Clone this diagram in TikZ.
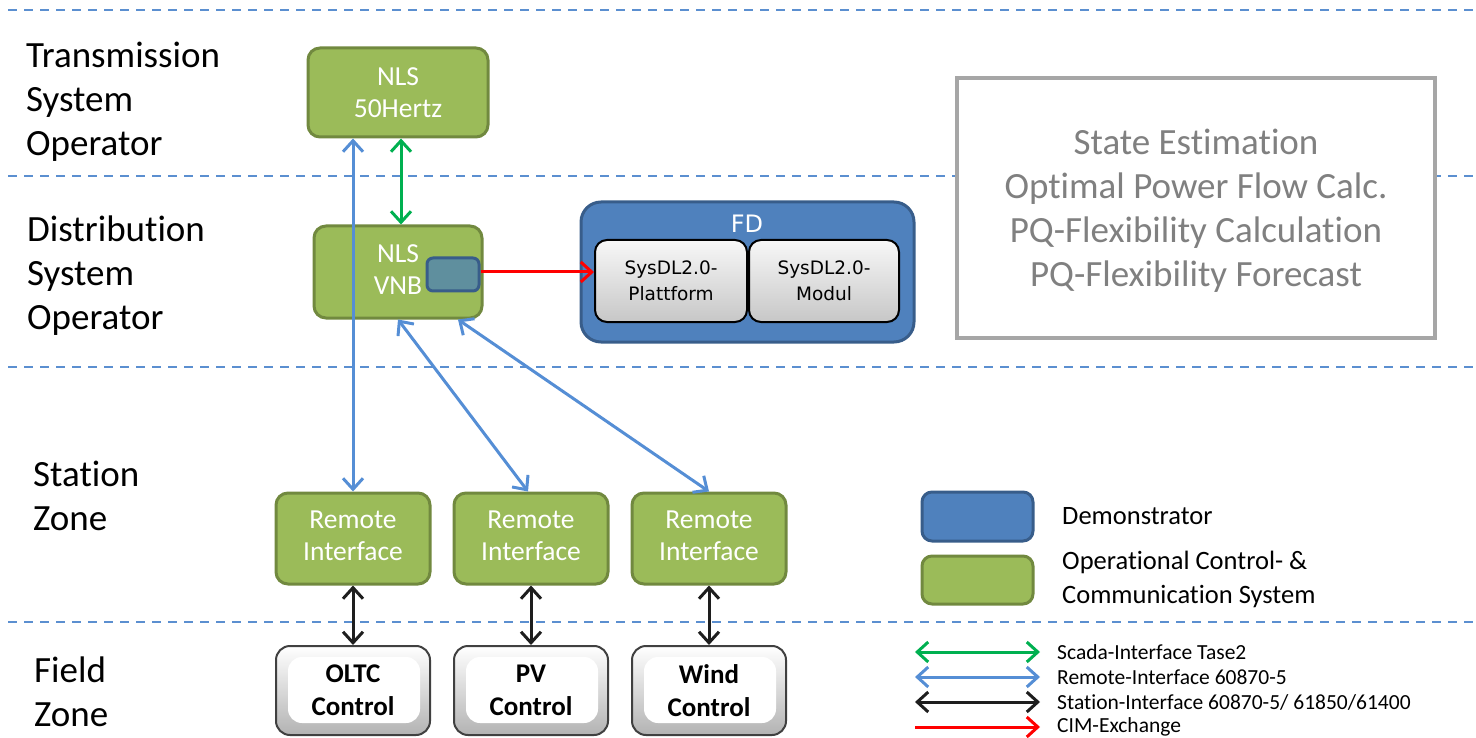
\documentclass[tikz,border=0pt]{standalone}
\usepackage{fontspec}
\setmainfont{Carlito}[Ligatures=CommonOff]
\newfontfamily\tahomalike{DejaVu Sans}
\usetikzlibrary{arrows.meta}

\definecolor{ocGreen}{RGB}{155,187,89}
\definecolor{ocGreenDark}{RGB}{113,137,63}
\definecolor{demoBlue}{RGB}{79,129,189}
\definecolor{demoBlueDark}{RGB}{56,93,138}
\definecolor{zoneLine}{RGB}{91,143,208}
\definecolor{remoteBlue}{RGB}{85,142,213}
\definecolor{scadaGreen}{RGB}{0,176,80}
\definecolor{gateTeal}{RGB}{95,143,158}
\definecolor{frameGray}{RGB}{166,166,166}
\definecolor{textGray}{RGB}{128,128,128}
\definecolor{stationBlack}{RGB}{30,30,30}

\tikzset{
  zonesep/.style={draw=zoneLine, line width=2pt, dash pattern=on 9pt off 7pt},
  zonelabel/.style={anchor=west, align=left, inner sep=0pt, font=\fontsize{37}{44}\selectfont},
  ocbox/.style={draw=ocGreenDark, line width=3pt, fill=ocGreen, rounded corners=12pt,
    text=white, align=center, inner sep=0pt, font=\fontsize{27.5}{32}\selectfont},
  demobox/.style={draw=demoBlueDark, line width=3pt, fill=demoBlue, rounded corners=20pt, inner sep=0pt},
  sysbox/.style={draw=black, line width=2pt, rounded corners=12pt, top color=black!3, bottom color=black!22,
    align=center, inner sep=0pt, font=\tahomalike\fontsize{18.5}{26}\selectfont},
  fieldbox/.style={draw=black!75, line width=2pt, rounded corners=14pt, top color=white, bottom color=black!30,
    align=center, inner sep=0pt, font=\bfseries\fontsize{27}{33}\selectfont,
    minimum width=154pt, minimum height=89pt,
    path picture={\fill[white] ([shift={(12,11)}]path picture bounding box.north west)
      rectangle ([shift={(-10,-12)}]path picture bounding box.south east);}},
  funcbox/.style={draw=frameGray, line width=4pt, fill=white, text=textGray, align=center,
    inner sep=0pt, font=\fontsize{37}{44}\selectfont},
  legtext/.style={anchor=west, align=left, inner sep=0pt},
  >={Straight Barb[length=11pt,width=20pt]},
  link/.style={line width=3pt, <->},
}

\begin{document}
\begin{tikzpicture}[x=1pt,y=-1pt]
\useasboundingbox (0,0) rectangle (1476,738);

% zone separators
\draw[zonesep] (8,10) -- (1476,10);
\draw[zonesep] (8,176) -- (1476,176);
\draw[zonesep] (8,367) -- (1476,367);
\draw[zonesep] (8,622) -- (1476,622);

% zone labels
\node[zonelabel] (lblTSO) at (26,102) {Transmission\\System\\Operator};
\node[zonelabel] (lblDSO) at (27,276) {Distribution\\System\\Operator};
\node[zonelabel] (lblStation) at (33,496) {Station\\Zone};
\node[zonelabel] (lblField) at (34,692) {Field\\Zone};

% control centres
\node[ocbox, minimum width=180pt, minimum height=89pt] (tso) at (398,92.5) {NLS\\50Hertz};
\node[ocbox, minimum width=168pt, minimum height=92pt, text depth=4pt] (vnb) at (398,272) {NLS\\VNB};
\node[draw=demoBlueDark, line width=3pt, fill=gateTeal, rounded corners=6pt,
      minimum width=52pt, minimum height=33pt, inner sep=0pt] (gate) at (453,274.5) {};

% demonstrator
\node[demobox, minimum width=333pt, minimum height=140pt] (fd) at (747.5,272) {};
\node[text=white, inner sep=0pt, font=\tahomalike\fontsize{24}{28}\selectfont] (fdlabel) at (747,224) {FD};
\node[sysbox, minimum width=152pt, minimum height=82pt] (plat) at (671,281) {SysDL2.0-\\Plattform};
\node[sysbox, minimum width=150pt, minimum height=82pt] (modul) at (824,281) {SysDL2.0-\\Modul};

% functions
\node[funcbox, minimum width=478pt, minimum height=260pt] (func) at (1196,208) {};
\node[text=textGray, align=center, inner sep=0pt, font=\fontsize{37}{44}\selectfont] (funcText) at (1196,211)
  {State Estimation\\Optimal Power Flow Calc.\\PQ-Flexibility Calculation\\PQ-Flexibility Forecast};

% station zone
\node[ocbox, minimum width=154pt, minimum height=91pt, text depth=6pt] (ri1) at (353,538.5) {Remote\\Interface};
\node[ocbox, minimum width=154pt, minimum height=91pt, text depth=6pt] (ri2) at (531,538.5) {Remote\\Interface};
\node[ocbox, minimum width=154pt, minimum height=91pt, text depth=6pt] (ri3) at (709,538.5) {Remote\\Interface};

% field zone
\node[fieldbox] (fc1) at (353,690.5) {OLTC\\Control};
\node[fieldbox] (fc2) at (531,690.5) {PV\\Control};
\node[fieldbox] (fc3) at (709,690.5) {Wind\\Control};

% connections
\draw[link, scadaGreen] ([xshift=3pt]tso.south) -- ([xshift=3pt]vnb.north);
\draw[link, remoteBlue] (ri1.north |- tso.south) -- (ri1.north);
\draw[link, remoteBlue] (vnb.south) -- ([xshift=-3pt]ri2.north);
\draw[link, remoteBlue] ([xshift=60pt]vnb.south) -- (ri3.north);
\draw[link, stationBlack] (ri1.south) -- (fc1.north);
\draw[link, stationBlack] (ri2.south) -- (fc2.north);
\draw[link, stationBlack] (ri3.south) -- (fc3.north);
\draw[line width=3pt, red, ->] ([yshift=2.5pt]gate.east) -- ([yshift=2.5pt]gate.east -| plat.west);

% legend: boxes
\node[demobox, rounded corners=10pt, minimum width=111pt, minimum height=49pt] (legDemo) at (977.5,516.5) {};
\node[ocbox, rounded corners=10pt, minimum width=111pt, minimum height=48pt] (legOC) at (977.5,580) {};
\node[legtext, font=\fontsize{26.5}{34}\selectfont] (legDemoText) at (1062,516) {Demonstrator};
\node[legtext, font=\fontsize{26.5}{34}\selectfont] (legOCText) at (1062,579) {Operational Control- \&\\Communication System};

% legend: interfaces
\coordinate (la1) at (915,652); \coordinate (lb1) at (1040,652);
\coordinate (la2) at (915,677); \coordinate (lb2) at (1040,677);
\coordinate (la3) at (915,702); \coordinate (lb3) at (1040,702);
\coordinate (la4) at (915,727); \coordinate (lb4) at (1040,727);
\draw[link, scadaGreen] (la1) -- (lb1);
\draw[link, remoteBlue] (la2) -- (lb2);
\draw[link, stationBlack] (la3) -- (lb3);
\draw[line width=3pt, red, ->] (la4) -- (lb4);
\node[legtext, font=\fontsize{21.5}{25}\selectfont] (lt1) at (1057,652) {Scada-Interface Tase2};
\node[legtext, font=\fontsize{21.5}{25}\selectfont] (lt2) at (1057,677) {Remote-Interface 60870-5};
\node[legtext, font=\fontsize{21.5}{25}\selectfont] (lt3) at (1057,702) {Station-Interface 60870-5/ 61850/61400};
\node[legtext, font=\fontsize{21.5}{25}\selectfont] (lt4) at (1057,727) {CIM-Exchange};
\end{tikzpicture}
\end{document}
